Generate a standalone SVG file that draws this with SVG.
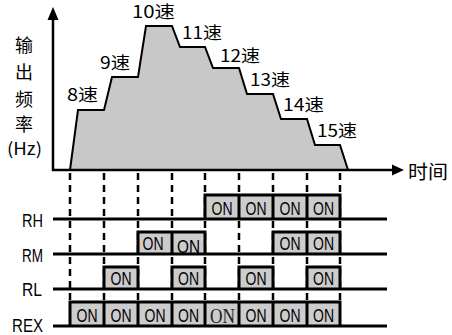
<svg xmlns="http://www.w3.org/2000/svg" width="452" height="335" viewBox="0 0 452 335">
<style>
.cjk{font-family:"Noto Sans CJK SC","Noto Sans",sans-serif;font-size:17px;fill:#000}
.lab{font-family:"Liberation Sans",Arial,sans-serif;font-size:19px;fill:#000}
.on{font-family:"Liberation Sans",Arial,sans-serif;font-size:18px;fill:#000;text-anchor:middle}
.onserif{font-family:"Liberation Serif","Times New Roman",serif;font-size:21px;fill:#222;text-anchor:middle}
.dash{stroke:#000;stroke-width:2.5;stroke-dasharray:7 5;fill:none}
.sig{stroke:#000;stroke-width:3;fill:none}
.box{fill:#cccccc;stroke:#000;stroke-width:3}
</style>
<rect width="452" height="335" fill="#fff"/>
<g id="profile">
<polygon points="70,170 78,110 104,110 112,77 138,77 146,26 172,26 180,47 205,47 213,68 239,68 247,94 273,94 281,119 307,119 315,145 340,145 348,170" fill="#c8c8c8" stroke="#000" stroke-width="2" stroke-linejoin="miter"/>
</g>
<g id="connectors">
<line x1="53" y1="171" x2="53" y2="18" stroke="#000" stroke-width="2.5"/>
<polygon points="47.5,20 53,7 58.5,20" fill="#000"/>
<line x1="52" y1="170" x2="394" y2="170" stroke="#000" stroke-width="2.5"/>
<polygon points="392,164.5 404,170 392,175.5" fill="#000"/>
<g id="dashes">
<line class="dash" x1="70" y1="173" x2="70" y2="302"/>
<line class="dash" x1="104" y1="173" x2="104" y2="302"/>
<line class="dash" x1="138" y1="173" x2="138" y2="302"/>
<line class="dash" x1="172" y1="173" x2="172" y2="302"/>
<line class="dash" x1="205" y1="173" x2="205" y2="302"/>
<line class="dash" x1="239" y1="173" x2="239" y2="302"/>
<line class="dash" x1="273" y1="173" x2="273" y2="302"/>
<line class="dash" x1="307" y1="173" x2="307" y2="302"/>
<line class="dash" x1="340" y1="173" x2="340" y2="302"/>
</g>
</g>
<g id="speed-labels">
<text class="cjk" x="67" y="101" textLength="31" lengthAdjust="spacingAndGlyphs">8速</text>
<text class="cjk" x="100" y="69" textLength="30" lengthAdjust="spacingAndGlyphs">9速</text>
<text class="cjk" x="132" y="18" textLength="43" lengthAdjust="spacingAndGlyphs">10速</text>
<text class="cjk" x="182" y="39" textLength="40" lengthAdjust="spacingAndGlyphs">11速</text>
<text class="cjk" x="220" y="62" textLength="40" lengthAdjust="spacingAndGlyphs">12速</text>
<text class="cjk" x="250" y="86" textLength="40" lengthAdjust="spacingAndGlyphs">13速</text>
<text class="cjk" x="283" y="111" textLength="41" lengthAdjust="spacingAndGlyphs">14速</text>
<text class="cjk" x="317" y="137" textLength="40" lengthAdjust="spacingAndGlyphs">15速</text>
</g>
<g id="axis-labels">
<text class="cjk" x="24" y="52" text-anchor="middle" style="font-size:18px">输</text>
<text class="cjk" x="24" y="79" text-anchor="middle" style="font-size:18px">出</text>
<text class="cjk" x="24" y="106" text-anchor="middle" style="font-size:18px">频</text>
<text class="cjk" x="24" y="131" text-anchor="middle" style="font-size:18px">率</text>
<text class="cjk" x="7" y="155" textLength="35" lengthAdjust="spacingAndGlyphs" style="font-size:17px">(Hz)</text>
<text class="cjk" x="408" y="179" textLength="40" lengthAdjust="spacingAndGlyphs" style="font-size:19px">时间</text>
</g>
<g id="row-RH">
<text class="lab" x="22" y="227" textLength="21" lengthAdjust="spacingAndGlyphs">RH</text>
<path class="box" d="M205,219 V195 H340 V219 M239,195 V219 M273,195 V219 M307,195 V219"/>
<line class="sig" x1="53" y1="219" x2="387" y2="219"/>
<text class="on" x="222" y="215" textLength="21" lengthAdjust="spacingAndGlyphs">ON</text>
<text class="on" x="256" y="215" textLength="21" lengthAdjust="spacingAndGlyphs">ON</text>
<text class="on" x="290" y="215" textLength="21" lengthAdjust="spacingAndGlyphs">ON</text>
<text class="on" x="323.5" y="215" textLength="21" lengthAdjust="spacingAndGlyphs">ON</text>
</g>
<g id="row-RM">
<text class="lab" x="22" y="262" textLength="21" lengthAdjust="spacingAndGlyphs">RM</text>
<path class="box" d="M138,254 V232 H205 V254 M172,232 V254"/>
<path class="box" d="M273,254 V232 H340 V254 M307,232 V254"/>
<line class="sig" x1="53" y1="254" x2="387" y2="254"/>
<text class="on" x="153" y="250" textLength="21" lengthAdjust="spacingAndGlyphs">ON</text>
<text class="on" x="188.5" y="253" textLength="23" lengthAdjust="spacingAndGlyphs" style="font-size:19px">ON</text>
<text class="on" x="290" y="250" textLength="21" lengthAdjust="spacingAndGlyphs">ON</text>
<text class="on" x="323.5" y="250" textLength="21" lengthAdjust="spacingAndGlyphs">ON</text>
</g>
<g id="row-RL">
<text class="lab" x="22" y="296" textLength="20" lengthAdjust="spacingAndGlyphs">RL</text>
<path class="box" d="M104,289 V267 H138 V289"/>
<path class="box" d="M172,289 V267 H205 V289"/>
<path class="box" d="M239,289 V267 H273 V289"/>
<path class="box" d="M307,289 V267 H340 V289"/>
<line class="sig" x1="53" y1="289" x2="387" y2="289"/>
<text class="on" x="121" y="285" textLength="21" lengthAdjust="spacingAndGlyphs">ON</text>
<text class="on" x="188.5" y="285" textLength="21" lengthAdjust="spacingAndGlyphs">ON</text>
<text class="on" x="256" y="285" textLength="21" lengthAdjust="spacingAndGlyphs">ON</text>
<text class="on" x="323.5" y="285" textLength="21" lengthAdjust="spacingAndGlyphs">ON</text>
</g>
<g id="row-REX">
<text class="lab" x="12" y="332" textLength="31" lengthAdjust="spacingAndGlyphs">REX</text>
<path class="box" d="M70,326 V302 H340 V326 M104,302 V326 M138,302 V326 M172,302 V326 M205,302 V326 M239,302 V326 M273,302 V326 M307,302 V326"/>
<line class="sig" x1="53" y1="326" x2="387" y2="326"/>
<text class="on" x="87" y="322" textLength="21" lengthAdjust="spacingAndGlyphs">ON</text>
<text class="on" x="121" y="322" textLength="21" lengthAdjust="spacingAndGlyphs">ON</text>
<text class="on" x="155" y="322" textLength="21" lengthAdjust="spacingAndGlyphs">ON</text>
<text class="on" x="188.5" y="322" textLength="21" lengthAdjust="spacingAndGlyphs">ON</text>
<text class="onserif" x="222.5" y="323" textLength="25" lengthAdjust="spacingAndGlyphs">ON</text>
<text class="on" x="256" y="322" textLength="21" lengthAdjust="spacingAndGlyphs">ON</text>
<text class="on" x="290" y="322" textLength="21" lengthAdjust="spacingAndGlyphs">ON</text>
<text class="on" x="323.5" y="322" textLength="21" lengthAdjust="spacingAndGlyphs">ON</text>
</g>
</svg>
